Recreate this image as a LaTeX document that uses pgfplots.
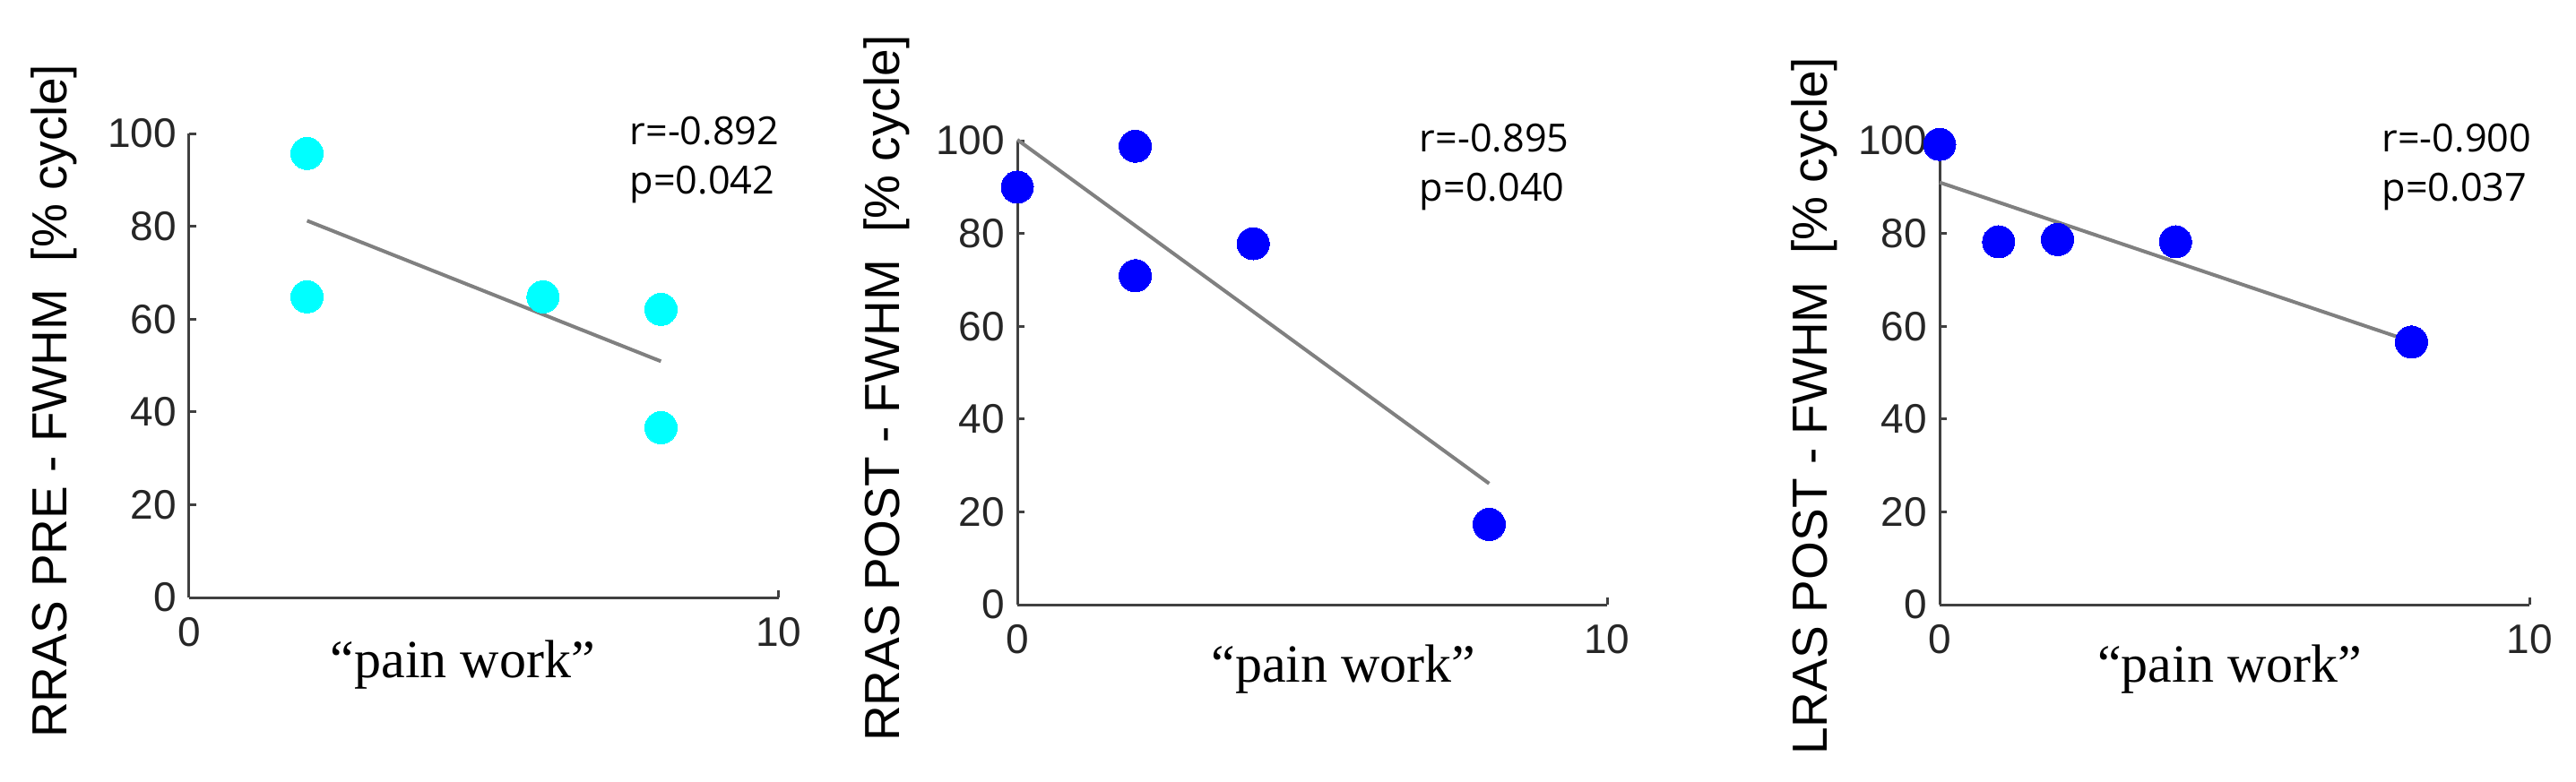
\documentclass[border=0pt]{standalone}
\usepackage{fontspec}
\usepackage{pgfplots}
\pgfplotsset{compat=1.18}
\newfontfamily\arial{Liberation Sans}
\newfontfamily\tnr{Liberation Serif}
\newfontfamily\osans{Open Sans}
\definecolor{axgray}{RGB}{64,64,64}
\definecolor{fitgray}{RGB}{128,128,128}
\definecolor{tickc}{RGB}{38,38,38}
\definecolor{mcyan}{RGB}{0,255,255}
\definecolor{mblue}{RGB}{0,0,255}
\pgfplotsset{
  panel/.style={
    scale only axis, width=164.5pt, height=129.5pt,
    xmin=0, xmax=10, ymin=0, ymax=100,
    axis x line*=bottom, axis y line*=left,
    axis line style={-, axgray, line width=0.75pt},
    xtick={0,10}, ytick={0,20,40,60,80,100},
    tick align=inside, major tick length=2pt,
    tick style={axgray, line width=0.75pt},
    /pgf/number format/assume math mode=true,
    ticklabel style={font=\arial\fontsize{11.5}{13}\selectfont, text=tickc},
    xticklabel style={yshift=-2pt},
    ylabel style={font=\arial\fontsize{13.75}{15}\selectfont, anchor=center},
    xlabel style={font=\tnr\fontsize{15}{17}\selectfont, anchor=center},
    clip=false,
  },
  fitl/.style={fitgray, line width=1pt, no marks},
  dots/.style={only marks, mark=*, mark size=4.5pt, color=#1, draw=#1, fill=#1,
    mark options={solid, draw=#1, fill=#1, line width=0pt}},
}
\newcommand{\stat}[3]{%
  \node[anchor=west, font=\osans\fontsize{10.8}{12}\selectfont, inner sep=0pt] at (rel axis cs:#1,1.005) {#2};
  \node[anchor=west, font=\osans\fontsize{10.8}{12}\selectfont, inner sep=0pt] at (rel axis cs:#1,0.89) {#3};
}
\begin{document}
\begin{tikzpicture}
\useasboundingbox (0,0) rectangle (718.5pt,218pt);
% Panel 1
\begin{axis}[panel, at={(52.75pt,51.25pt)}, anchor=south west,
  ylabel={RRAS PRE - FWHM~~[\% cycle]},
  ylabel style={at={(axis description cs:-0.229,0.423)}},
  xlabel={“pain work”},
  xlabel style={at={(axis description cs:0.464,-0.145)}}]
\addplot[dots=mcyan] coordinates {(2,95.7) (2,64.8) (6,64.8) (8,62.1) (8,36.6)};
\addplot[fitl] coordinates {(2,81.2) (8,50.9)};
\stat{0.746}{r=-0.892}{p=0.042}
\end{axis}
% Panel 2
\begin{axis}[panel, at={(283.75pt,49.25pt)}, anchor=south west,
  ylabel={RRAS POST - FWHM~~[\% cycle]},
  ylabel style={at={(axis description cs:-0.222,0.466)}},
  xlabel={“pain work”},
  xlabel style={at={(axis description cs:0.553,-0.14)}}]
\addplot[dots=mblue] coordinates {(0,90.0) (2,98.8) (2,70.9) (4,77.8) (8,17.3)};
\addplot[fitl] coordinates {(0,100.2) (8,26.1)};
\stat{0.681}{r=-0.895}{p=0.040}
\end{axis}
% Panel 3
\begin{axis}[panel, at={(541pt,49.25pt)}, anchor=south west,
  ylabel={LRAS POST - FWHM~~[\% cycle]},
  ylabel style={at={(axis description cs:-0.213,0.428)}},
  xlabel={“pain work”},
  xlabel style={at={(axis description cs:0.492,-0.14)}}]
\addplot[dots=mblue] coordinates {(0,99.2) (1,78.2) (2,78.7) (4,78.2) (8,56.6)};
\addplot[fitl] coordinates {(0,91.0) (8,56.7)};
\stat{0.749}{r=-0.900}{p=0.037}
\end{axis}
\end{tikzpicture}
\end{document}
